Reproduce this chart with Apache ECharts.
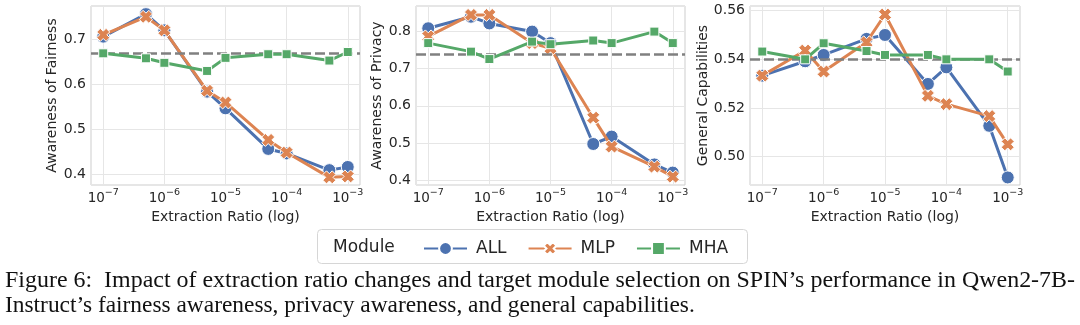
<!DOCTYPE html>
<html>
<head>
<meta charset="utf-8">
<script src="https://cdn.jsdelivr.net/npm/echarts@6/dist/echarts.min.js"></script>
<style>
  html, body { margin: 0; padding: 0; background: #fff; }
  #chart { width: 1080px; height: 325px; }
</style>
</head>
<body>
<div id="chart"></div>
<script>
// Extraction ratios (x positions, plotted on a log axis)
const ratios = [1e-7, 5e-7, 1e-6, 5e-6, 1e-5, 5e-5, 1e-4, 5e-4, 1e-3];

// Awareness of Fairness
const fairAll = [0.706, 0.756, 0.720, 0.584, 0.547, 0.457, 0.447, 0.410, 0.417];
const fairMlp = [0.710, 0.750, 0.720, 0.586, 0.560, 0.477, 0.449, 0.394, 0.396];
const fairMha = [0.669, 0.658, 0.648, 0.630, 0.659, 0.667, 0.667, 0.653, 0.672];
const fairBase = 0.669;

// Awareness of Privacy
const privAll = [0.809, 0.840, 0.822, 0.800, 0.769, 0.497, 0.517, 0.442, 0.420];
const privMlp = [0.787, 0.845, 0.845, 0.769, 0.755, 0.568, 0.490, 0.436, 0.409];
const privMha = [0.769, 0.746, 0.726, 0.773, 0.766, 0.776, 0.769, 0.800, 0.769];
const privBase = 0.743;

// General Capabilities
const genAll = [0.5333, 0.5392, 0.5418, 0.5484, 0.5500, 0.5299, 0.5367, 0.5127, 0.4915];
const genMlp = [0.5333, 0.5436, 0.5350, 0.5470, 0.5584, 0.5250, 0.5216, 0.5167, 0.5051];
const genMha = [0.5432, 0.5400, 0.5466, 0.5434, 0.5418, 0.5418, 0.5400, 0.5400, 0.5350];
const genBase = 0.5388;

const panelTitles = ['Awareness of Fairness', 'Awareness of Privacy', 'General Capabilities'];
const xTitle = 'Extraction Ratio (log)';
const moduleNames = ['ALL', 'MLP', 'MHA'];
const legendTitle = 'Module';
const captionLines = [
  'Figure 6:  Impact of extraction ratio changes and target module selection on SPIN\u2019s performance in Qwen2-7B-',
  'Instruct\u2019s fairness awareness, privacy awareness, and general capabilities.'
];

const panels = [
  { series: [fairAll, fairMlp, fairMha], base: fairBase, min: 0.377, max: 0.774, split: 5, digits: 1 },
  { series: [privAll, privMlp, privMha], base: privBase, min: 0.3865, max: 0.869, split: 5, digits: 1 },
  { series: [genAll, genMlp, genMha], base: genBase, min: 0.4884, max: 0.5619, split: 3, digits: 2 }
];

const colors = ['#4C72B0', '#DD8452', '#55A868'];
// filled, thick-armed "X" marker
const xSymbol = 'path://M0,2.8L2.8,0L5,2.2L7.2,0L10,2.8L7.8,5L10,7.2L7.2,10L5,7.8L2.8,10L0,7.2L2.2,5Z';
const symbols = ['circle', xSymbol, 'rect'];
const symbolSizes = [13, 13, 9];
const textColor = '#262626';
const font = 'DejaVu Sans';
const captionFont = '23.4px "Liberation Serif"';

const gridBoxes = [
  { left: 91, width: 269, nameGap: 18 },
  { left: 416, width: 269, nameGap: 22 },
  { left: 750, width: 270, nameGap: 32 }
];

const grids = gridBoxes.map(g => ({
  left: g.left, width: g.width, top: 6, height: 179,
  show: true, borderColor: '#cccccc', borderWidth: 1, backgroundColor: '#fff'
}));

const xAxes = panels.map((p, i) => ({
  type: 'log', logBase: 10, gridIndex: i,
  min: Math.pow(10, -7.2), max: Math.pow(10, -2.8),
  name: xTitle, nameLocation: 'middle', nameGap: 15,
  nameTextStyle: { fontFamily: font, fontSize: 14, color: textColor },
  axisLine: { show: false }, axisTick: { show: false },
  splitLine: { show: true, lineStyle: { color: '#e6e6e6', width: 1 } },
  axisLabel: {
    margin: 3, showMinLabel: false, showMaxLabel: false,
    formatter: v => {
      const lg = Math.log10(v);
      const e = Math.round(lg);
      if (Math.abs(lg - e) > 1e-6) return '';
      return '{b|10}{s|\u2212' + (-e) + '}';
    },
    rich: {
      b: { fontFamily: font, fontSize: 13.5, color: textColor, padding: [3, 0, 0, 0], verticalAlign: 'bottom' },
      s: { fontFamily: font, fontSize: 9.5, color: textColor, verticalAlign: 'top' }
    }
  }
}));

const yAxes = panels.map((p, i) => ({
  type: 'value', gridIndex: i, min: p.min, max: p.max, splitNumber: p.split,
  name: panelTitles[i], nameLocation: 'middle', nameRotate: 90, nameGap: gridBoxes[i].nameGap,
  nameTextStyle: { fontFamily: font, fontSize: 14, color: textColor },
  axisLine: { show: false }, axisTick: { show: false },
  splitLine: { show: true, lineStyle: { color: '#e6e6e6', width: 1 } },
  axisLabel: {
    margin: 5, showMinLabel: false, showMaxLabel: false,
    fontFamily: font, fontSize: 14, color: textColor,
    formatter: v => v.toFixed(p.digits)
  }
}));

const series = [];
panels.forEach((p, i) => {
  p.series.forEach((vals, k) => {
    const s = {
      type: 'line', name: moduleNames[k], xAxisIndex: i, yAxisIndex: i,
      data: ratios.map((r, j) => [r, vals[j]]),
      symbol: symbols[k], symbolSize: symbolSizes[k], showAllSymbol: true,
      lineStyle: { color: colors[k], width: 3 },
      itemStyle: { color: colors[k], borderColor: '#fff', borderWidth: 1 },
      z: 3 + k,
      emphasis: { disabled: true }
    };
    if (k === 0) {
      s.markLine = {
        silent: true, symbol: 'none', label: { show: false },
        lineStyle: { color: '#808080', type: [10, 4], width: 2.5 },
        data: [{ yAxis: p.base }]
      };
    }
    series.push(s);
  });
});

// first caption line is justified to the full text width
const measureCtx = document.createElement('canvas').getContext('2d');
measureCtx.font = captionFont;
const line1Width = measureCtx.measureText(captionLines[0]).width;
const line1Scale = 1070 / line1Width;

const chart = echarts.init(document.getElementById('chart'), null, { renderer: 'canvas' });
chart.setOption({
  animation: false,
  grid: grids,
  xAxis: xAxes,
  yAxis: yAxes,
  series: series,
  legend: {
    data: moduleNames, left: 418, top: 235,
    itemWidth: 43, itemHeight: 16, itemGap: 21,
    textStyle: { fontFamily: font, fontSize: 17, color: textColor, padding: [0, 0, 0, 4] }
  },
  graphic: [
    {
      type: 'rect', left: 317, top: 229, silent: true,
      shape: { width: 430, height: 34, r: 4 },
      style: { fill: '#fff', stroke: '#d6d6d6', lineWidth: 1 }, z: -1
    },
    {
      type: 'text', x: 333, y: 248, silent: true,
      style: { text: legendTitle, font: '17px "DejaVu Sans"', fill: textColor, verticalAlign: 'middle' }
    },
    {
      type: 'text', x: 5, y: 281, scaleX: line1Scale, silent: true,
      style: { text: captionLines[0], font: captionFont, fill: '#111', verticalAlign: 'middle' }
    },
    {
      type: 'text', x: 5, y: 306, silent: true,
      style: { text: captionLines[1], font: captionFont, fill: '#111', verticalAlign: 'middle' }
    }
  ]
});
</script>
</body>
</html>
